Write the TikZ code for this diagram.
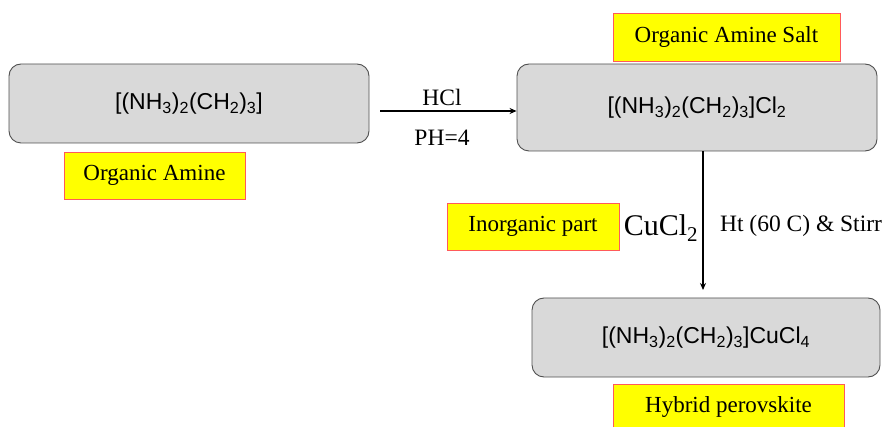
\documentclass[tikz,border=0pt]{standalone}
\usepackage{fontspec}
\setmainfont{Liberation Serif}
\newfontfamily\arialf{Liberation Sans}
\usetikzlibrary{arrows.meta}
\definecolor{boxfill}{HTML}{D9D9D9}
\definecolor{boxline}{HTML}{505050}
\definecolor{lblline}{HTML}{FF5A5A}
\definecolor{lblfill}{HTML}{FFFF00}
\tikzset{
  chembox/.style={draw=boxline, fill=boxfill, line width=0.9pt, rounded corners=12pt, inner sep=0pt, font=\arialf\fontsize{23}{27}\selectfont},
  tagbox/.style={draw=lblline, fill=lblfill, line width=0.9pt, inner sep=0pt, font=\fontsize{23}{27}\selectfont},
  cond/.style={inner sep=0pt, font=\fontsize{23.5}{27}\selectfont},
  flow/.style={line width=1.3pt, -{Stealth[length=7pt,width=6pt]}}
}
\newcommand{\sbs}[1]{\textsubscript{#1}}
\begin{document}
\begin{tikzpicture}[x=1pt,y=-1pt]
\useasboundingbox (0,0) rectangle (883,427);
\node[chembox, minimum width=360pt, minimum height=79pt] (b1) at (189,103.5) {[(NH\sbs{3})\sbs{2}(CH\sbs{2})\sbs{3}]};
\node[chembox, minimum width=360pt, minimum height=87pt] (b2) at (697,107.5) {[(NH\sbs{3})\sbs{2}(CH\sbs{2})\sbs{3}]Cl\sbs{2}};
\node[chembox, minimum width=348pt, minimum height=79pt] (b3) at (706,337.5) {[(NH\sbs{3})\sbs{2}(CH\sbs{2})\sbs{3}]CuCl\sbs{4}};
\node[tagbox, minimum width=181pt, minimum height=47pt] (t1) at (154.5,175.5) {Organic Amine};
\node[tagbox, minimum width=227pt, minimum height=48pt] (t2) at (726.5,37) {Organic Amine Salt};
\node[tagbox, minimum width=172pt, minimum height=47pt] (t3) at (533,226.5) {Inorganic part};
\node[tagbox, minimum width=231pt, minimum height=46pt] (t4) at (728.5,407) {Hybrid perovskite};
\coordinate (a1) at (380,111);
\draw[flow] (a1) -- (a1 -| b2.west);
\node[cond] (hcl) at (442,97) {HCl};
\node[cond] (ph) at (442,138) {PH=4};
\coordinate (a2) at (703,0);
\coordinate (a2e) at (703,290);
\draw[flow, line width=1.1pt] (a2 |- b2.south) -- (a2e);
\node[cond, font=\fontsize{30}{34}\selectfont] (cu) at (661,228) {CuCl\sbs{2}};
\node[cond] (ht) at (801,226) {Ht (60 C) \& Stirr};
\end{tikzpicture}
\end{document}
